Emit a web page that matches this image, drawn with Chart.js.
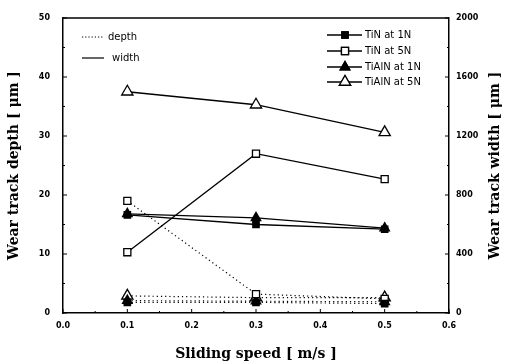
<!DOCTYPE html>
<html>
<head>
<meta charset="utf-8">
<script src="https://cdn.jsdelivr.net/npm/chart.js@4/dist/chart.umd.min.js"></script>
<style>
html,body{margin:0;padding:0;background:#fff;}
#wrap{width:508px;height:363px;position:relative;}
</style>
</head>
<body>
<div id="wrap"><canvas id="c" width="508" height="363"></canvas></div>
<script>
// ---- data ----
const speeds = [0.1, 0.3, 0.5];
const xTicks = [0.0, 0.1, 0.2, 0.3, 0.4, 0.5, 0.6];
const depthTicks = [0, 10, 20, 30, 40, 50];
const widthTicks = [0, 400, 800, 1200, 1600, 2000];

const seriesNames = ['TiN at 1N', 'TiN at 5N', 'TiAlN at 1N', 'TiAlN at 5N'];
// wear track width [um] (solid lines, right axis)
const widthTiN1N = [665, 600, 568];
const widthTiN5N = [412, 1080, 908];
const widthTiAlN1N = [672, 645, 575];
const widthTiAlN5N = [1500, 1412, 1225];
// wear track depth [um] (dotted lines, left axis)
const depthTiN1N = [1.8, 1.8, 1.6];
const depthTiN5N = [19.0, 3.2, 2.4];
const depthTiAlN1N = [2.1, 2.0, 1.9];
const depthTiAlN5N = [2.9, 2.6, 2.6];

const xTitle = 'Sliding speed [ m/s ]';
const yTitle = 'Wear track depth [ μm ]';
const y2Title = 'Wear track width [ μm ]';
const lineLegend = ['depth', 'width'];

// ---- styles ----
const styles = [
  {pointStyle:'rect', fill:'#000', r:4.5},
  {pointStyle:'rect', fill:'#fff', r:5},
  {pointStyle:'triangle', fill:'#000', r:5.5},
  {pointStyle:'triangle', fill:'#fff', r:6.5}
];
const widths = [widthTiN1N, widthTiN5N, widthTiAlN1N, widthTiAlN5N];
const depths = [depthTiN1N, depthTiN5N, depthTiAlN1N, depthTiAlN5N];

const datasets = [];
seriesNames.forEach((n, i) => {
  const s = styles[i];
  datasets.push({
    label: n + ' (width)',
    data: speeds.map((x, k) => ({x, y: widths[i][k]})),
    yAxisID: 'y2',
    borderColor: '#000', borderWidth: 1.3,
    pointStyle: s.pointStyle, pointRadius: s.r, pointBackgroundColor: s.fill,
    pointBorderColor: '#000', pointBorderWidth: 1.3, tension: 0
  });
  datasets.push({
    label: n + ' (depth)',
    data: speeds.map((x, k) => ({x, y: depths[i][k]})),
    yAxisID: 'y',
    borderColor: '#000', borderWidth: 1.2, borderDash: [1.2, 3],
    pointStyle: s.pointStyle, pointRadius: s.r, pointBackgroundColor: s.fill,
    pointBorderColor: '#000', pointBorderWidth: 1.3, tension: 0
  });
});

const tickFont = {family: 'DejaVu Sans', size: 8, weight: 'bold'};
const titleFont = {family: 'DejaVu Serif', size: 14, weight: 'bold'};

const decor = {
  id: 'decor',
  afterDraw(chart) {
    const ctx = chart.ctx;
    const a = chart.chartArea;
    const sx = chart.scales.x, sy = chart.scales.y, sy2 = chart.scales.y2;
    ctx.save();
    ctx.strokeStyle = '#000';
    ctx.lineWidth = 1.5;
    ctx.beginPath();
    ctx.moveTo(a.left, a.top); ctx.lineTo(a.right, a.top);
    ctx.stroke();
    ctx.lineWidth = 1;
    ctx.beginPath();
    // inward ticks
    for (let v = 0; v <= 0.6001; v += 0.05) {
      const p = sx.getPixelForValue(v);
      const L = (Math.round(v * 100) % 10 === 0) ? 4 : 2;
      ctx.moveTo(p, a.bottom); ctx.lineTo(p, a.bottom - L);
    }
    for (let v = 0; v <= 50; v += 5) {
      const p = sy.getPixelForValue(v);
      const L = (v % 10 === 0) ? 4 : 2;
      ctx.moveTo(a.left, p); ctx.lineTo(a.left + L, p);
    }
    for (let v = 0; v <= 2000; v += 200) {
      const p = sy2.getPixelForValue(v);
      const L = (v % 400 === 0) ? 4 : 2;
      ctx.moveTo(a.right, p); ctx.lineTo(a.right - L, p);
    }
    ctx.stroke();

    // right axis title (reads bottom-to-top)
    ctx.fillStyle = '#000';
    ctx.font = 'bold 14px "DejaVu Serif"';
    ctx.textAlign = 'center';
    ctx.textBaseline = 'middle';
    ctx.translate(495, (a.top + a.bottom) / 2);
    ctx.rotate(-Math.PI / 2);
    ctx.fillText(y2Title, 0, 0);
    ctx.restore();

    // line-style legend
    ctx.save();
    ctx.strokeStyle = '#000';
    ctx.fillStyle = '#000';
    ctx.font = '10px "DejaVu Sans"';
    ctx.textBaseline = 'middle';
    ctx.textAlign = 'left';
    ctx.lineWidth = 1.2;
    ctx.setLineDash([1.2, 2]);
    ctx.beginPath(); ctx.moveTo(82, 37); ctx.lineTo(104, 37); ctx.stroke();
    ctx.setLineDash([]);
    ctx.beginPath(); ctx.moveTo(82, 58); ctx.lineTo(104, 58); ctx.stroke();
    ctx.fillText(lineLegend[0], 108, 37);
    ctx.fillText(lineLegend[1], 112, 58);

    // series legend
    const ly = [35, 51, 67, 82];
    seriesNames.forEach((n, i) => {
      const s = styles[i];
      ctx.lineWidth = 1.3;
      ctx.beginPath(); ctx.moveTo(327, ly[i]); ctx.lineTo(362, ly[i]); ctx.stroke();
      Chart.helpers.drawPoint(ctx, {pointStyle: s.pointStyle, radius: s.r, rotation: 0, borderWidth: 1.3}, 345, ly[i]);
      ctx.fillStyle = s.fill;
      ctx.fill();
      ctx.stroke();
      ctx.fillStyle = '#000';
      ctx.fillText(n, 365, ly[i]);
    });
    ctx.restore();
  }
};

new Chart(document.getElementById('c'), {
  type: 'line',
  data: {datasets},
  options: {
    responsive: false,
    animation: false,
    layout: {padding: {top: 18, left: 0, right: 0, bottom: 0}},
    plugins: {legend: {display: false}, tooltip: {enabled: false}},
    scales: {
      x: {
        type: 'linear', min: 0, max: 0.6, position: 'bottom',
        afterBuildTicks: s => { s.ticks = xTicks.map(v => ({value: v})); },
        afterFit: s => { s.height = 50; },
        ticks: {font: tickFont, color: '#000', padding: 8, callback: v => v.toFixed(1), maxRotation: 0},
        grid: {display: false, drawTicks: false},
        border: {display: true, color: '#000', width: 1.5},
        title: {display: true, text: xTitle, font: titleFont, color: '#000', padding: {top: 2, bottom: 0}}
      },
      y: {
        type: 'linear', min: 0, max: 50, position: 'left',
        afterBuildTicks: s => { s.ticks = depthTicks.map(v => ({value: v})); },
        afterFit: s => { s.width = 63; },
        ticks: {font: tickFont, color: '#000', padding: 13, callback: v => String(v)},
        grid: {display: false, drawTicks: false},
        border: {display: true, color: '#000', width: 1.5},
        title: {display: true, text: yTitle, font: titleFont, color: '#000', padding: {top: 6, bottom: 0}}
      },
      y2: {
        type: 'linear', min: 0, max: 2000, position: 'right',
        afterBuildTicks: s => { s.ticks = widthTicks.map(v => ({value: v})); },
        afterFit: s => { s.width = 59; },
        ticks: {font: tickFont, color: '#000', padding: 7, callback: v => String(v)},
        grid: {display: false, drawTicks: false, drawOnChartArea: false},
        border: {display: true, color: '#000', width: 1.5}
      }
    }
  },
  plugins: [decor]
});
</script>
</body>
</html>
